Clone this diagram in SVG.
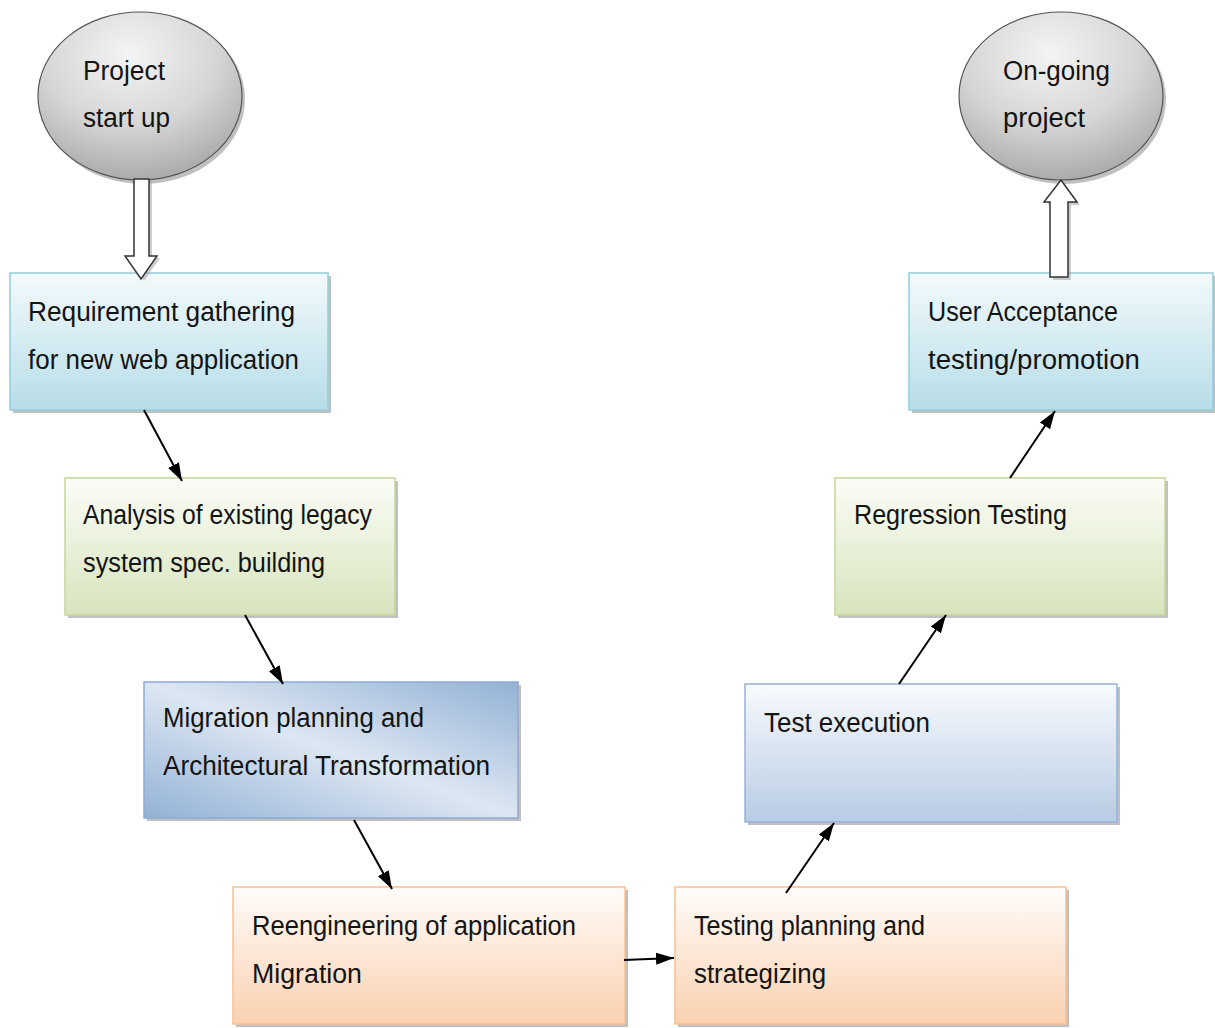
<svg xmlns="http://www.w3.org/2000/svg" width="1215" height="1028" viewBox="0 0 1215 1028">
  <defs>
    <linearGradient id="gCyan" x1="0" y1="0" x2="0" y2="1">
      <stop offset="0" stop-color="#f3fafc"/>
      <stop offset="1" stop-color="#b7dde8"/>
    </linearGradient>
    <linearGradient id="gGreen" x1="0" y1="0" x2="0" y2="1">
      <stop offset="0" stop-color="#fbfdf7"/>
      <stop offset="1" stop-color="#d7e4bd"/>
    </linearGradient>
    <linearGradient id="gPeach" x1="0" y1="0" x2="0" y2="1">
      <stop offset="0" stop-color="#fffcfa"/>
      <stop offset="1" stop-color="#fad1b0"/>
    </linearGradient>
    <linearGradient id="gSteel" x1="0" y1="0" x2="0" y2="1">
      <stop offset="0" stop-color="#f8fafd"/>
      <stop offset="1" stop-color="#b8cce4"/>
    </linearGradient>
    <linearGradient id="gDiag" x1="1" y1="0" x2="0" y2="1">
      <stop offset="0" stop-color="#93b1d6"/>
      <stop offset="0.5" stop-color="#dde7f2"/>
      <stop offset="1" stop-color="#93b1d6"/>
    </linearGradient>
    <radialGradient id="gOrb" cx="0.45" cy="0.25" r="0.85">
      <stop offset="0" stop-color="#f4f4f4"/>
      <stop offset="0.5" stop-color="#d6d6d6"/>
      <stop offset="1" stop-color="#9e9e9e"/>
    </radialGradient>
    <marker id="head" viewBox="0 0 10 10" refX="10" refY="5" markerWidth="18" markerHeight="18" orient="auto" markerUnits="userSpaceOnUse">
      <path d="M0,1.6 L10,5 L0,8.4 z" fill="#000"/>
    </marker>
  </defs>
  <style>
    .box { stroke-width: 1.5; }
    .shadow { fill: #8c8c8c; opacity: 0.55; }
    .lbl { font-family: "Liberation Sans", Arial, sans-serif; font-size: 27px; fill: #141414; }
    .conn { stroke: #000; stroke-width: 2; fill: none; marker-end: url(#head); }
    .fat { fill: #ffffff; stroke: #333; stroke-width: 1.5; }
  </style>

  <rect width="1215" height="1028" fill="#ffffff"/>

  <!-- start terminal -->
  <g id="start">
    <ellipse cx="143" cy="99" rx="102" ry="85" class="shadow"/>
    <ellipse cx="140" cy="96" rx="102" ry="84" fill="url(#gOrb)" stroke="#555" stroke-width="1.2"/>
    <text class="lbl" x="83" y="80" textLength="82" lengthAdjust="spacingAndGlyphs">Project</text>
    <text class="lbl" x="83" y="127" textLength="87" lengthAdjust="spacingAndGlyphs">start up</text>
  </g>

  <!-- end terminal -->
  <g id="ongoing">
    <ellipse cx="1064" cy="99" rx="102" ry="85" class="shadow"/>
    <ellipse cx="1061" cy="96" rx="102" ry="84" fill="url(#gOrb)" stroke="#555" stroke-width="1.2"/>
    <text class="lbl" x="1003" y="80" textLength="107" lengthAdjust="spacingAndGlyphs">On-going</text>
    <text class="lbl" x="1003" y="127" textLength="82" lengthAdjust="spacingAndGlyphs">project</text>
  </g>

  <!-- process steps -->
  <g id="requirements">
    <rect x="13" y="276" width="318" height="137" class="shadow"/>
    <rect x="10" y="273" width="318" height="137" fill="url(#gCyan)" stroke="#93cddd" class="box"/>
    <text class="lbl" x="28" y="321" textLength="267" lengthAdjust="spacingAndGlyphs">Requirement gathering</text>
    <text class="lbl" x="28" y="369" textLength="271" lengthAdjust="spacingAndGlyphs">for new web application</text>
  </g>

  <g id="analysis">
    <rect x="68" y="481" width="330" height="137" class="shadow"/>
    <rect x="65" y="478" width="330" height="137" fill="url(#gGreen)" stroke="#c3d69b" class="box"/>
    <text class="lbl" x="83" y="524" textLength="289" lengthAdjust="spacingAndGlyphs">Analysis of existing legacy</text>
    <text class="lbl" x="83" y="572" textLength="242" lengthAdjust="spacingAndGlyphs">system spec. building</text>
  </g>

  <g id="migration-planning">
    <rect x="147" y="685" width="374" height="136" class="shadow"/>
    <rect x="144" y="682" width="374" height="136" fill="url(#gDiag)" stroke="#8eaad4" class="box"/>
    <text class="lbl" x="163" y="727" textLength="261" lengthAdjust="spacingAndGlyphs">Migration planning and</text>
    <text class="lbl" x="163" y="775" textLength="327" lengthAdjust="spacingAndGlyphs">Architectural Transformation</text>
  </g>

  <g id="reengineering">
    <rect x="236" y="890" width="392" height="137" class="shadow"/>
    <rect x="233" y="887" width="392" height="137" fill="url(#gPeach)" stroke="#fac090" class="box"/>
    <text class="lbl" x="252" y="935" textLength="324" lengthAdjust="spacingAndGlyphs">Reengineering of application</text>
    <text class="lbl" x="252" y="983" textLength="110" lengthAdjust="spacingAndGlyphs">Migration</text>
  </g>

  <g id="test-planning">
    <rect x="678" y="890" width="391" height="137" class="shadow"/>
    <rect x="675" y="887" width="391" height="137" fill="url(#gPeach)" stroke="#fac090" class="box"/>
    <text class="lbl" x="694" y="935" textLength="231" lengthAdjust="spacingAndGlyphs">Testing planning and</text>
    <text class="lbl" x="694" y="983" textLength="132" lengthAdjust="spacingAndGlyphs">strategizing</text>
  </g>

  <g id="test-execution">
    <rect x="748" y="687" width="372" height="138" class="shadow"/>
    <rect x="745" y="684" width="372" height="138" fill="url(#gSteel)" stroke="#95b3d7" class="box"/>
    <text class="lbl" x="764" y="732" textLength="166" lengthAdjust="spacingAndGlyphs">Test execution</text>
  </g>

  <g id="regression">
    <rect x="838" y="481" width="330" height="137" class="shadow"/>
    <rect x="835" y="478" width="330" height="137" fill="url(#gGreen)" stroke="#c3d69b" class="box"/>
    <text class="lbl" x="854" y="524" textLength="213" lengthAdjust="spacingAndGlyphs">Regression Testing</text>
  </g>

  <g id="uat">
    <rect x="912" y="276" width="304" height="137" class="shadow"/>
    <rect x="909" y="273" width="304" height="137" fill="url(#gCyan)" stroke="#93cddd" class="box"/>
    <text class="lbl" x="928" y="321" textLength="190" lengthAdjust="spacingAndGlyphs">User Acceptance</text>
    <text class="lbl" x="928" y="369" textLength="212" lengthAdjust="spacingAndGlyphs">testing/promotion</text>
  </g>

  <!-- connectors -->
  <g id="connectors">
    <!-- hollow block arrows at the terminals -->
    <path d="M137,181 L152,181 L152,258 L160,258 L144,281 L128,258 L137,258 Z" fill="#999" opacity="0.5"/>
    <path d="M134,179 L149,179 L149,256 L157,256 L141,279 L125,256 L134,256 Z" class="fat"/>
    <path d="M1053,280 L1071,280 L1071,205 L1080,205 L1064,183 L1047,205 L1053,205 Z" fill="#999" opacity="0.5"/>
    <path d="M1050,277 L1068,277 L1068,202 L1077,202 L1061,180 L1044,202 L1050,202 Z" class="fat"/>

    <line class="conn" x1="144" y1="410" x2="182" y2="481"/>
    <line class="conn" x1="245" y1="615" x2="283" y2="684"/>
    <line class="conn" x1="354" y1="820" x2="392" y2="889"/>
    <line class="conn" x1="624" y1="960" x2="674" y2="958"/>
    <line class="conn" x1="786" y1="893" x2="834" y2="823"/>
    <line class="conn" x1="899" y1="684" x2="946" y2="615"/>
    <line class="conn" x1="1010" y1="478" x2="1055" y2="411"/>
  </g>
</svg>
